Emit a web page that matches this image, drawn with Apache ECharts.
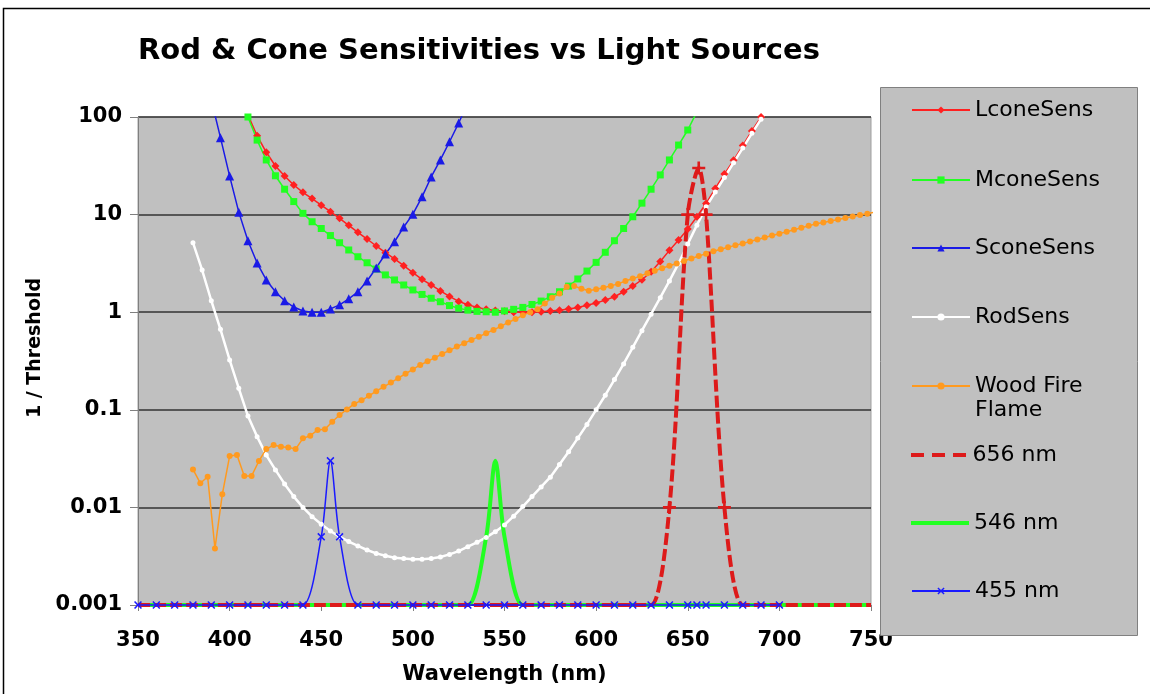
<!DOCTYPE html>
<html lang="en" style="height: 100%">
<head>
  <meta charset="utf-8">
  <script type="text/javascript" src="https://cdn.jsdelivr.net/npm/echarts@6.0.0/dist/echarts.min.js"></script>
</head>
<body style="height: 100%; margin: 0; background: #fff">
  <div id="container" style="width: 1150px; height: 694px"></div>
  <script type="text/javascript">
    // [wavelength nm, 1/threshold]
    var lconeSens = [
      [410, 105], [415, 64.3], [420, 43.5], [425, 31.5], [430, 24.9], [435, 20.1], [440, 16.9],
      [445, 14.6], [450, 12.5], [455, 10.7], [460, 9.16], [465, 7.77], [470, 6.58], [475, 5.62],
      [480, 4.77], [485, 4.07], [490, 3.51], [495, 3.0], [500, 2.54], [505, 2.17], [510, 1.9],
      [515, 1.65], [520, 1.45], [525, 1.29], [530, 1.19], [535, 1.12], [540, 1.07], [545, 1.04],
      [550, 1.02], [555, 1.0], [560, 1.0], [565, 1.0], [570, 1.01], [575, 1.03], [580, 1.05],
      [585, 1.08], [590, 1.12], [595, 1.18], [600, 1.24], [605, 1.33], [610, 1.44], [615, 1.62],
      [620, 1.85], [625, 2.15], [630, 2.6], [635, 3.3], [640, 4.3], [645, 5.5], [650, 7.1],
      [655, 9.5], [660, 13], [665, 18.5], [670, 26], [675, 36], [680, 51], [685, 72],
      [690, 100], [695, 140]
    ];
    var mconeSens = [
      [410, 100], [415, 58], [420, 36.3], [425, 25], [430, 18.2], [435, 13.6], [440, 10.3],
      [445, 8.45], [450, 7.2], [455, 6.1], [460, 5.15], [465, 4.34], [470, 3.7], [475, 3.21],
      [480, 2.77], [485, 2.41], [490, 2.14], [495, 1.9], [500, 1.69], [505, 1.52], [510, 1.39],
      [515, 1.28], [520, 1.17], [525, 1.1], [530, 1.05], [535, 1.02], [540, 1.01], [545, 1.0],
      [550, 1.03], [555, 1.07], [560, 1.12], [565, 1.2], [570, 1.3], [575, 1.44], [580, 1.62],
      [585, 1.85], [590, 2.19], [595, 2.64], [600, 3.24], [605, 4.11], [610, 5.4], [615, 7.2],
      [620, 9.5], [625, 13.1], [630, 18.2], [635, 25.5], [640, 36.3], [645, 51.6], [650, 73.6],
      [655, 113]
    ];
    var sconeSens = [
      [390, 150], [395, 61.4], [400, 24.8], [405, 10.6], [410, 5.4], [415, 3.19], [420, 2.14],
      [425, 1.62], [430, 1.31], [435, 1.13], [440, 1.03], [445, 1.0], [450, 1.0], [455, 1.08],
      [460, 1.19], [465, 1.37], [470, 1.62], [475, 2.09], [480, 2.84], [485, 3.95], [490, 5.27],
      [495, 7.46], [500, 10.1], [505, 15.2], [510, 24.3], [515, 36.3], [520, 55.8], [525, 86.8],
      [530, 140]
    ];
    var rodSens = [
      [380, 5.15], [385, 2.7], [390, 1.31], [395, 0.668], [400, 0.324], [405, 0.166], [410, 0.0863],
      [415, 0.0531], [420, 0.0344], [425, 0.0242], [430, 0.0174], [435, 0.0129], [440, 0.01],
      [445, 0.00804], [450, 0.00671], [455, 0.00573], [460, 0.00501], [465, 0.00446], [470, 0.00403],
      [475, 0.00366], [480, 0.00338], [485, 0.0032], [490, 0.00305], [495, 0.00299], [500, 0.00294],
      [505, 0.00294], [510, 0.00299], [515, 0.0031], [520, 0.0033], [525, 0.00357], [530, 0.00396],
      [535, 0.00439], [540, 0.00493], [545, 0.00564], [550, 0.00661], [555, 0.00813], [560, 0.0102],
      [565, 0.0129], [570, 0.0162], [575, 0.0204], [580, 0.0275], [585, 0.0372], [590, 0.0513],
      [595, 0.0708], [600, 0.1], [605, 0.141], [610, 0.204], [615, 0.295], [620, 0.437], [625, 0.646],
      [630, 0.955], [635, 1.41], [640, 2.09], [645, 3.16], [650, 5.0], [655, 7.8], [660, 12],
      [665, 17], [670, 24], [675, 34], [680, 48], [685, 68], [690, 95], [695, 130]
    ];
    var woodFireFlame = [
      [380, 0.0245], [384, 0.0177], [388, 0.0206], [392, 0.0038], [396, 0.0136], [400, 0.0336],
      [404, 0.0344], [408, 0.021], [412, 0.021], [416, 0.0299], [420, 0.0396], [424, 0.0435],
      [428, 0.0419], [432, 0.0412], [436, 0.0396], [440, 0.051], [444, 0.0543], [448, 0.0621],
      [452, 0.0631], [456, 0.0755], [460, 0.0885], [464, 0.101], [468, 0.115], [472, 0.125],
      [476, 0.139], [480, 0.155], [484, 0.172], [488, 0.19], [492, 0.211], [496, 0.234],
      [500, 0.259], [504, 0.288], [508, 0.314], [512, 0.342], [516, 0.373], [520, 0.407],
      [524, 0.444], [528, 0.481], [532, 0.52], [536, 0.562], [540, 0.608], [544, 0.658],
      [548, 0.716], [552, 0.785], [556, 0.851], [560, 0.933], [564, 1.0], [568, 1.07],
      [572, 1.23], [576, 1.41], [580, 1.55], [584, 1.82], [588, 1.86], [592, 1.74],
      [596, 1.66], [600, 1.72], [604, 1.78], [608, 1.86], [612, 1.95], [616, 2.09],
      [620, 2.21], [624, 2.34], [628, 2.51], [632, 2.66], [636, 2.82], [640, 2.99],
      [644, 3.16], [648, 3.35], [652, 3.55], [656, 3.76], [660, 3.98], [664, 4.22],
      [668, 4.42], [672, 4.62], [676, 4.84], [680, 5.07], [684, 5.31], [688, 5.56],
      [692, 5.82], [696, 6.1], [700, 6.38], [704, 6.68], [708, 7.0], [712, 7.33],
      [716, 7.67], [720, 8.04], [724, 8.32], [728, 8.61], [732, 8.91], [736, 9.22],
      [740, 9.55], [744, 9.89], [748, 10.2], [752, 10.6]
    ];

    // spectral lines, baseline 0.001
    var line656Nm = [350, 360, 370, 380, 390, 400, 410, 420, 430, 440, 450, 460, 470, 480, 490, 500,
      510, 520, 530, 540, 550, 560, 570, 580, 590, 600, 610, 620, 630, 640, 650, 656, 660, 670,
      680, 690, 700, 710, 720, 730, 740, 750];
    var line656Val = [0.001, 0.001, 0.001, 0.001, 0.001, 0.001, 0.001, 0.001, 0.001, 0.001, 0.001,
      0.001, 0.001, 0.001, 0.001, 0.001, 0.001, 0.001, 0.001, 0.001, 0.001, 0.001, 0.001, 0.001,
      0.001, 0.001, 0.001, 0.001, 0.001, 0.01, 10, 30, 10, 0.01, 0.001, 0.001, 0.001, 0.001,
      0.001, 0.001, 0.001, 0.001];
    var line546Nm = [350, 360, 370, 380, 390, 400, 410, 420, 430, 440, 450, 460, 470, 480, 490, 500,
      510, 520, 530, 540, 545, 550, 560, 570, 580, 590, 600, 610, 620, 630, 640, 650, 660, 670,
      680, 690, 700, 710, 720, 730, 740, 750];
    var line546Val = [0.001, 0.001, 0.001, 0.001, 0.001, 0.001, 0.001, 0.001, 0.001, 0.001, 0.001,
      0.001, 0.001, 0.001, 0.001, 0.001, 0.001, 0.001, 0.001, 0.005, 0.03, 0.005, 0.001, 0.001,
      0.001, 0.001, 0.001, 0.001, 0.001, 0.001, 0.001, 0.001, 0.001, 0.001, 0.001, 0.001, 0.001,
      0.001, 0.001, 0.001, 0.001, 0.001];
    var line455Nm = [350, 360, 370, 380, 390, 400, 410, 420, 430, 440, 450, 455, 460, 470, 480, 490,
      500, 510, 520, 530, 540, 550, 560, 570, 580, 590, 600, 610, 620, 630, 640, 650, 655, 660,
      670, 680, 690, 700];
    var line455Val = [0.001, 0.001, 0.001, 0.001, 0.001, 0.001, 0.001, 0.001, 0.001, 0.001, 0.005,
      0.03, 0.005, 0.001, 0.001, 0.001, 0.001, 0.001, 0.001, 0.001, 0.001, 0.001, 0.001, 0.001,
      0.001, 0.001, 0.001, 0.001, 0.001, 0.001, 0.001, 0.001, 0.001, 0.001, 0.001, 0.001, 0.001,
      0.001];

    var yTicks = [0.001, 0.01, 0.1, 1, 10, 100];

    var FONT = 'DejaVu Sans';
    var pair = function (xs, ys) {
      return xs.map(function (x, i) { return [x, ys[i]]; });
    };
    var CROSS = 'path://M0,1.4L1.4,0L5,3.6L8.6,0L10,1.4L6.4,5L10,8.6L8.6,10L5,6.4L1.4,10L0,8.6L3.6,5Z';
    var PLUS = 'path://M4,0H6V4H10V6H6V10H4V6H0V4H4Z';

    var dom = document.getElementById('container');
    var myChart = echarts.init(dom, null, { renderer: 'canvas' });

    function curve(name, data, color, width, symbol, size) {
      return {
        name: name,
        type: 'line',
        data: data,
        symbol: symbol,
        symbolSize: size,
        showSymbol: true,
        color: color,
        lineStyle: { color: color, width: width },
        itemStyle: { color: color },
        emphasis: { disabled: true },
        animation: false
      };
    }

    // legend rows: [name, centre y]
    var legendRows = [
      ['LconeSens', 110], ['MconeSens', 180], ['SconeSens', 248], ['RodSens', 317],
      ['Wood Fire Flame', 386], ['656 nm', 455], ['546 nm', 523], ['455 nm', 591]
    ];

    var option = {
      backgroundColor: '#fff',
      animation: false,
      title: {
        text: 'Rod & Cone Sensitivities vs Light Sources',
        left: 138,
        top: 37,
        padding: 0,
        textStyle: { fontFamily: FONT, fontSize: 29, fontWeight: 'bold', color: '#000' }
      },
      graphic: {
        zlevel: 1,
        elements: [
          {
            type: 'rect', zlevel: 1, z: 100,
            shape: { x: 3.5, y: 8.5, width: 1200, height: 720 },
            style: { fill: 'none', stroke: '#000', lineWidth: 1.5 }
          },
          {
            type: 'rect', zlevel: 1, z: 100,
            shape: { x: 880.5, y: 87.5, width: 257, height: 548 },
            style: { fill: '#c0c0c0', stroke: '#808080', lineWidth: 1 }
          }
        ]
      },
      legend: legendRows.map(function (row) {
        var name = row[0];
        var two = name === 'Wood Fire Flame';
        var item = { name: name };
        var ih = 9;
        if (name === '656 nm') {
          item.icon = 'path://M0,0h13v4h-13zM21,0h13v4h-13zM42,0h13v4h-13z';
          ih = 4;
        } else if (name === '546 nm') {
          item.icon = 'rect';
          ih = 4;
        }
        return {
          zlevel: 2,
          data: [item],
          left: 911,
          top: row[1] - (two ? 36 : 12),
          padding: 0,
          itemWidth: 58,
          itemHeight: ih,
          selectedMode: false,
          // blank first line keeps the icon level with "Wood Fire"
          formatter: function (n) { return n === 'Wood Fire Flame' ? ' \nWood Fire\nFlame' : n; },
          textStyle: { fontFamily: FONT, fontSize: 22, color: '#000', lineHeight: 24 }
        };
      }),
      grid: {
        left: 138, right: 279, top: 117, bottom: 89,
        show: true,
        backgroundColor: '#c0c0c0',
        borderColor: '#a0a0a0',
        borderWidth: 1
      },
      xAxis: {
        type: 'value',
        z: -10,
        min: 350, max: 750, interval: 50,
        name: 'Wavelength (nm)',
        nameLocation: 'middle',
        nameGap: 59,
        nameTextStyle: { fontFamily: FONT, fontSize: 21, fontWeight: 'bold', color: '#000' },
        axisLine: { show: true, onZero: false, lineStyle: { color: '#808080', width: 1 } },
        axisTick: { show: true, length: 6, lineStyle: { color: '#808080' } },
        axisLabel: { margin: 25, fontFamily: FONT, fontSize: 21, fontWeight: 'bold', color: '#000' },
        splitLine: { show: false }
      },
      yAxis: {
        type: 'log',
        logBase: 10,
        min: yTicks[0], max: yTicks[yTicks.length - 1],
        name: '1 / Threshold',
        nameLocation: 'middle',
        nameGap: 93,
        nameRotate: 90,
        nameTextStyle: {
          fontFamily: FONT, fontSize: 19, fontWeight: 'bold', color: '#000',
          padding: [0, 0, 0, 26]
        },
        axisLine: { show: true, lineStyle: { color: '#808080', width: 1 } },
        axisTick: { show: true, length: 8, lineStyle: { color: '#808080' } },
        axisLabel: {
          margin: 16, fontFamily: FONT, fontSize: 21, fontWeight: 'bold', color: '#000',
          formatter: function (v) { return String(Number(Number(v).toPrecision(1))); }
        },
        splitLine: { show: true, lineStyle: { color: '#333', width: 1.5 } },
        minorTick: { show: false },
        minorSplitLine: { show: false }
      },
      series: [
        curve('LconeSens', lconeSens, '#ff2020', 1.5, 'diamond', 8),
        curve('MconeSens', mconeSens, '#22ff22', 1.5, 'rect', 7),
        curve('SconeSens', sconeSens, '#1a1ae6', 1.5, 'triangle', 9),
        curve('RodSens', rodSens, '#ffffff', 2.5, 'circle', 5),
        curve('Wood Fire Flame', woodFireFlame, '#ff9a1f', 1.5, 'circle', 6),
        {
          name: '546 nm', type: 'line', data: pair(line546Nm, line546Val),
          smooth: 0.3, clip: false, showSymbol: false, symbol: 'none',
          color: '#22ff22', lineStyle: { color: '#22ff22', width: 4 },
          itemStyle: { color: '#22ff22' }, emphasis: { disabled: true }, animation: false
        },
        {
          name: '656 nm', type: 'line', data: pair(line656Nm, line656Val),
          smooth: 0.3, clip: false, symbol: PLUS,
          symbolSize: function (v) { return v[1] > 0.001 ? 13 : 0; },
          color: '#dd1a1a', lineStyle: { color: '#dd1a1a', width: 4, type: [12, 4] },
          itemStyle: { color: '#dd1a1a' }, emphasis: { disabled: true }, animation: false
        },
        {
          name: '455 nm', type: 'line', data: pair(line455Nm, line455Val),
          smooth: 0.3, clip: false, symbol: CROSS, symbolSize: 8,
          color: '#1a1aff', lineStyle: { color: '#1a1aff', width: 1.5 },
          itemStyle: { color: '#1a1aff' }, emphasis: { disabled: true }, animation: false
        }
      ]
    };

    myChart.setOption(option);
  </script>
</body>
</html>
